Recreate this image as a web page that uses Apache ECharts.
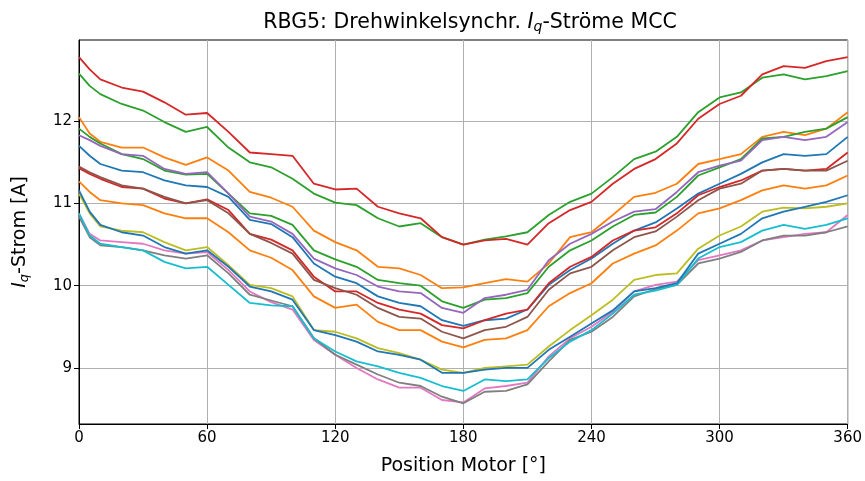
<!DOCTYPE html>
<html>
<head>
<meta charset="utf-8">
<script src="https://cdn.jsdelivr.net/npm/echarts@6/dist/echarts.min.js"></script>
<style>
  html, body { margin: 0; padding: 0; background: #fff; }
  #main { width: 865px; height: 481px; }
</style>
</head>
<body>
<div id="main"></div>
<script>
// Position Motor [°]
var positions = [0, 5, 10, 20, 30, 40, 50, 60, 70, 80, 90, 100, 110, 120, 130, 140, 150, 160, 170, 180,
  190, 200, 210, 220, 230, 240, 250, 260, 270, 280, 290, 300, 310, 320, 330, 340, 350, 360];

// Iq-Ströme [A], one array per measurement
var blueA = [11.70, 11.58, 11.48, 11.40, 11.38, 11.28, 11.22, 11.20, 11.08, 10.80, 10.75, 10.59, 10.27, 10.11, 10.03, 9.87, 9.79, 9.75, 9.58, 9.51,
  9.58, 9.60, 9.71, 10.01, 10.19, 10.33, 10.51, 10.67, 10.77, 10.94, 11.12, 11.24, 11.36, 11.50, 11.60, 11.58, 11.60, 11.81];
var orangeA = [12.05, 11.85, 11.75, 11.68, 11.68, 11.56, 11.47, 11.56, 11.40, 11.14, 11.07, 10.96, 10.67, 10.53, 10.43, 10.23, 10.21, 10.13, 9.97, 9.98,
  10.03, 10.08, 10.05, 10.27, 10.59, 10.65, 10.86, 11.08, 11.13, 11.24, 11.48, 11.54, 11.60, 11.81, 11.87, 11.83, 11.91, 12.11];
var greenA = [11.91, 11.81, 11.73, 11.60, 11.54, 11.40, 11.35, 11.36, 11.12, 10.88, 10.85, 10.74, 10.43, 10.32, 10.23, 10.07, 10.03, 10.00, 9.81, 9.73,
  9.83, 9.85, 9.91, 10.23, 10.43, 10.55, 10.72, 10.86, 10.89, 11.08, 11.34, 11.44, 11.54, 11.79, 11.81, 11.87, 11.91, 12.05];
var redA = [11.43, 11.36, 11.30, 11.20, 11.18, 11.06, 11.00, 11.05, 10.92, 10.63, 10.56, 10.43, 10.11, 9.93, 9.93, 9.79, 9.71, 9.66, 9.52, 9.48,
  9.58, 9.66, 9.71, 10.03, 10.23, 10.35, 10.55, 10.67, 10.71, 10.88, 11.10, 11.20, 11.28, 11.40, 11.42, 11.40, 11.42, 11.62];
var purple = [11.83, 11.77, 11.70, 11.60, 11.58, 11.42, 11.36, 11.38, 11.12, 10.84, 10.78, 10.63, 10.33, 10.21, 10.13, 9.99, 9.93, 9.91, 9.73, 9.67,
  9.85, 9.89, 9.95, 10.31, 10.51, 10.63, 10.78, 10.90, 10.93, 11.14, 11.38, 11.46, 11.52, 11.77, 11.81, 11.77, 11.81, 11.99];
var brown = [11.45, 11.38, 11.32, 11.22, 11.18, 11.08, 11.00, 11.04, 10.88, 10.63, 10.52, 10.39, 10.07, 9.97, 9.89, 9.73, 9.62, 9.60, 9.44, 9.36,
  9.46, 9.50, 9.62, 9.95, 10.15, 10.23, 10.43, 10.59, 10.66, 10.84, 11.04, 11.18, 11.24, 11.40, 11.42, 11.40, 11.40, 11.52];
var pink = [10.88, 10.63, 10.55, 10.53, 10.51, 10.43, 10.39, 10.41, 10.19, 9.93, 9.80, 9.71, 9.34, 9.16, 9.00, 8.86, 8.76, 8.76, 8.61, 8.58,
  8.75, 8.78, 8.82, 9.14, 9.36, 9.50, 9.68, 9.93, 10.01, 10.05, 10.31, 10.37, 10.43, 10.55, 10.59, 10.63, 10.65, 10.86];
var gray = [10.84, 10.59, 10.49, 10.47, 10.43, 10.37, 10.33, 10.37, 10.15, 9.89, 9.82, 9.75, 9.36, 9.16, 9.04, 8.92, 8.82, 8.78, 8.65, 8.57,
  8.71, 8.72, 8.80, 9.08, 9.34, 9.44, 9.62, 9.87, 9.96, 10.01, 10.27, 10.33, 10.41, 10.55, 10.61, 10.61, 10.65, 10.72];
var olive = [11.12, 10.88, 10.72, 10.67, 10.65, 10.53, 10.43, 10.47, 10.25, 10.01, 9.97, 9.87, 9.46, 9.44, 9.36, 9.24, 9.18, 9.10, 8.98, 8.94,
  9.00, 9.02, 9.04, 9.26, 9.46, 9.64, 9.83, 10.07, 10.13, 10.15, 10.45, 10.61, 10.72, 10.90, 10.95, 10.94, 10.96, 11.00];
var cyan = [10.88, 10.61, 10.51, 10.47, 10.43, 10.29, 10.21, 10.23, 10.01, 9.79, 9.76, 9.75, 9.36, 9.20, 9.08, 9.02, 8.94, 8.88, 8.78, 8.72,
  8.86, 8.84, 8.86, 9.12, 9.32, 9.46, 9.66, 9.89, 9.94, 10.01, 10.33, 10.47, 10.53, 10.67, 10.74, 10.69, 10.74, 10.82];
var blueB = [11.16, 10.90, 10.74, 10.65, 10.61, 10.47, 10.39, 10.43, 10.23, 9.99, 9.93, 9.83, 9.46, 9.40, 9.32, 9.20, 9.16, 9.10, 8.94, 8.94,
  8.98, 9.00, 9.00, 9.22, 9.38, 9.54, 9.70, 9.93, 9.97, 10.03, 10.39, 10.51, 10.63, 10.82, 10.90, 10.96, 11.02, 11.10];
var orangeB = [11.27, 11.14, 11.04, 11.00, 10.98, 10.88, 10.82, 10.82, 10.65, 10.43, 10.34, 10.19, 9.87, 9.73, 9.77, 9.56, 9.46, 9.46, 9.32, 9.25,
  9.34, 9.36, 9.46, 9.75, 9.91, 10.03, 10.27, 10.39, 10.49, 10.67, 10.88, 10.94, 11.04, 11.16, 11.22, 11.18, 11.22, 11.34];
var greenB = [12.58, 12.43, 12.33, 12.21, 12.13, 11.99, 11.87, 11.93, 11.68, 11.50, 11.44, 11.30, 11.12, 11.01, 10.98, 10.82, 10.72, 10.76, 10.59, 10.50,
  10.56, 10.60, 10.65, 10.86, 11.02, 11.12, 11.32, 11.54, 11.63, 11.81, 12.11, 12.29, 12.35, 12.53, 12.57, 12.51, 12.55, 12.61];
var redB = [12.78, 12.63, 12.51, 12.41, 12.36, 12.23, 12.08, 12.10, 11.87, 11.62, 11.60, 11.58, 11.24, 11.17, 11.18, 10.96, 10.88, 10.82, 10.59, 10.50,
  10.55, 10.57, 10.50, 10.76, 10.92, 11.02, 11.24, 11.42, 11.54, 11.73, 12.03, 12.21, 12.31, 12.57, 12.67, 12.65, 12.73, 12.78];

var yTicks = [9, 10, 11, 12];

var allLines = [blueA, orangeA, greenA, redA, purple, brown, pink, gray, olive, cyan, blueB, orangeB, greenB, redB];
var colors = ['#1f77b4', '#ff7f0e', '#2ca02c', '#d62728', '#9467bd', '#8c564b', '#e377c2', '#7f7f7f', '#bcbd22', '#17becf'];

var mychart = echarts.init(document.getElementById('main'));

var series = allLines.map(function (vals, i) {
  return {
    type: 'line',
    data: positions.map(function (p, k) { return [p, vals[k]]; }),
    showSymbol: false,
    lineStyle: { width: 1.8, color: colors[i % 10] },
    itemStyle: { color: colors[i % 10] },
  };
});

var option = {
  animation: false,
  backgroundColor: '#fff',
  textStyle: { fontFamily: 'DejaVu Sans' },
  title: {
    text: '{n|RBG5: Drehwinkelsynchr. }{i|I}{s|q}{n|-Ströme MCC}',
    left: 465,
    textAlign: 'center',
    top: 6,
    textStyle: {
      fontWeight: 'normal',
      rich: {
        n: { fontSize: 20.5, color: '#000', fontWeight: 'normal', fontFamily: 'DejaVu Sans' },
        i: { fontSize: 20.5, color: '#000', fontWeight: 'normal', fontStyle: 'italic', fontFamily: 'DejaVu Sans' },
        s: { fontSize: 14, color: '#000', fontWeight: 'normal', fontStyle: 'italic', fontFamily: 'DejaVu Sans', padding: [9, 0, 0, 0] },
      },
    },
  },
  grid: {
    left: 79,
    right: 13,
    top: 40,
    bottom: 55,
    show: true,
    borderColor: '#000',
    borderWidth: 1,
  },
  xAxis: {
    type: 'value',
    min: 0,
    max: 360,
    interval: 60,
    name: 'Position Motor [°]',
    nameLocation: 'middle',
    nameGap: 33,
    nameTextStyle: { fontSize: 19, color: '#000', fontFamily: 'DejaVu Sans' },
    axisLine: { show: true, lineStyle: { color: '#000', width: 1 } },
    axisTick: { show: true, length: 5, lineStyle: { color: '#000' } },
    axisLabel: { fontSize: 15, color: '#000', margin: 7, fontFamily: 'DejaVu Sans' },
    splitLine: { show: true, lineStyle: { color: '#b0b0b0', width: 1 } },
  },
  yAxis: {
    type: 'value',
    min: 8.318,
    max: 12.988,
    name: '{i|I}{s|q}{n|-Strom [A]}',
    nameLocation: 'middle',
    nameRotate: 90,
    nameGap: 48,
    nameTextStyle: {
      rich: {
        n: { fontSize: 19, color: '#000', fontFamily: 'DejaVu Sans' },
        i: { fontSize: 19, color: '#000', fontStyle: 'italic', fontFamily: 'DejaVu Sans' },
        s: { fontSize: 13, color: '#000', fontStyle: 'italic', fontFamily: 'DejaVu Sans', padding: [8, 0, 0, 0] },
      },
    },
    axisLine: { show: true, lineStyle: { color: '#000', width: 1 } },
    axisTick: { show: true, length: 5, customValues: yTicks, lineStyle: { color: '#000' } },
    axisLabel: { fontSize: 15, color: '#000', margin: 7, customValues: yTicks, fontFamily: 'DejaVu Sans' },
    splitLine: { show: true, lineStyle: { color: '#b0b0b0', width: 1 } },
  },
  series: series,
};

mychart.setOption(option);
</script>
</body>
</html>
